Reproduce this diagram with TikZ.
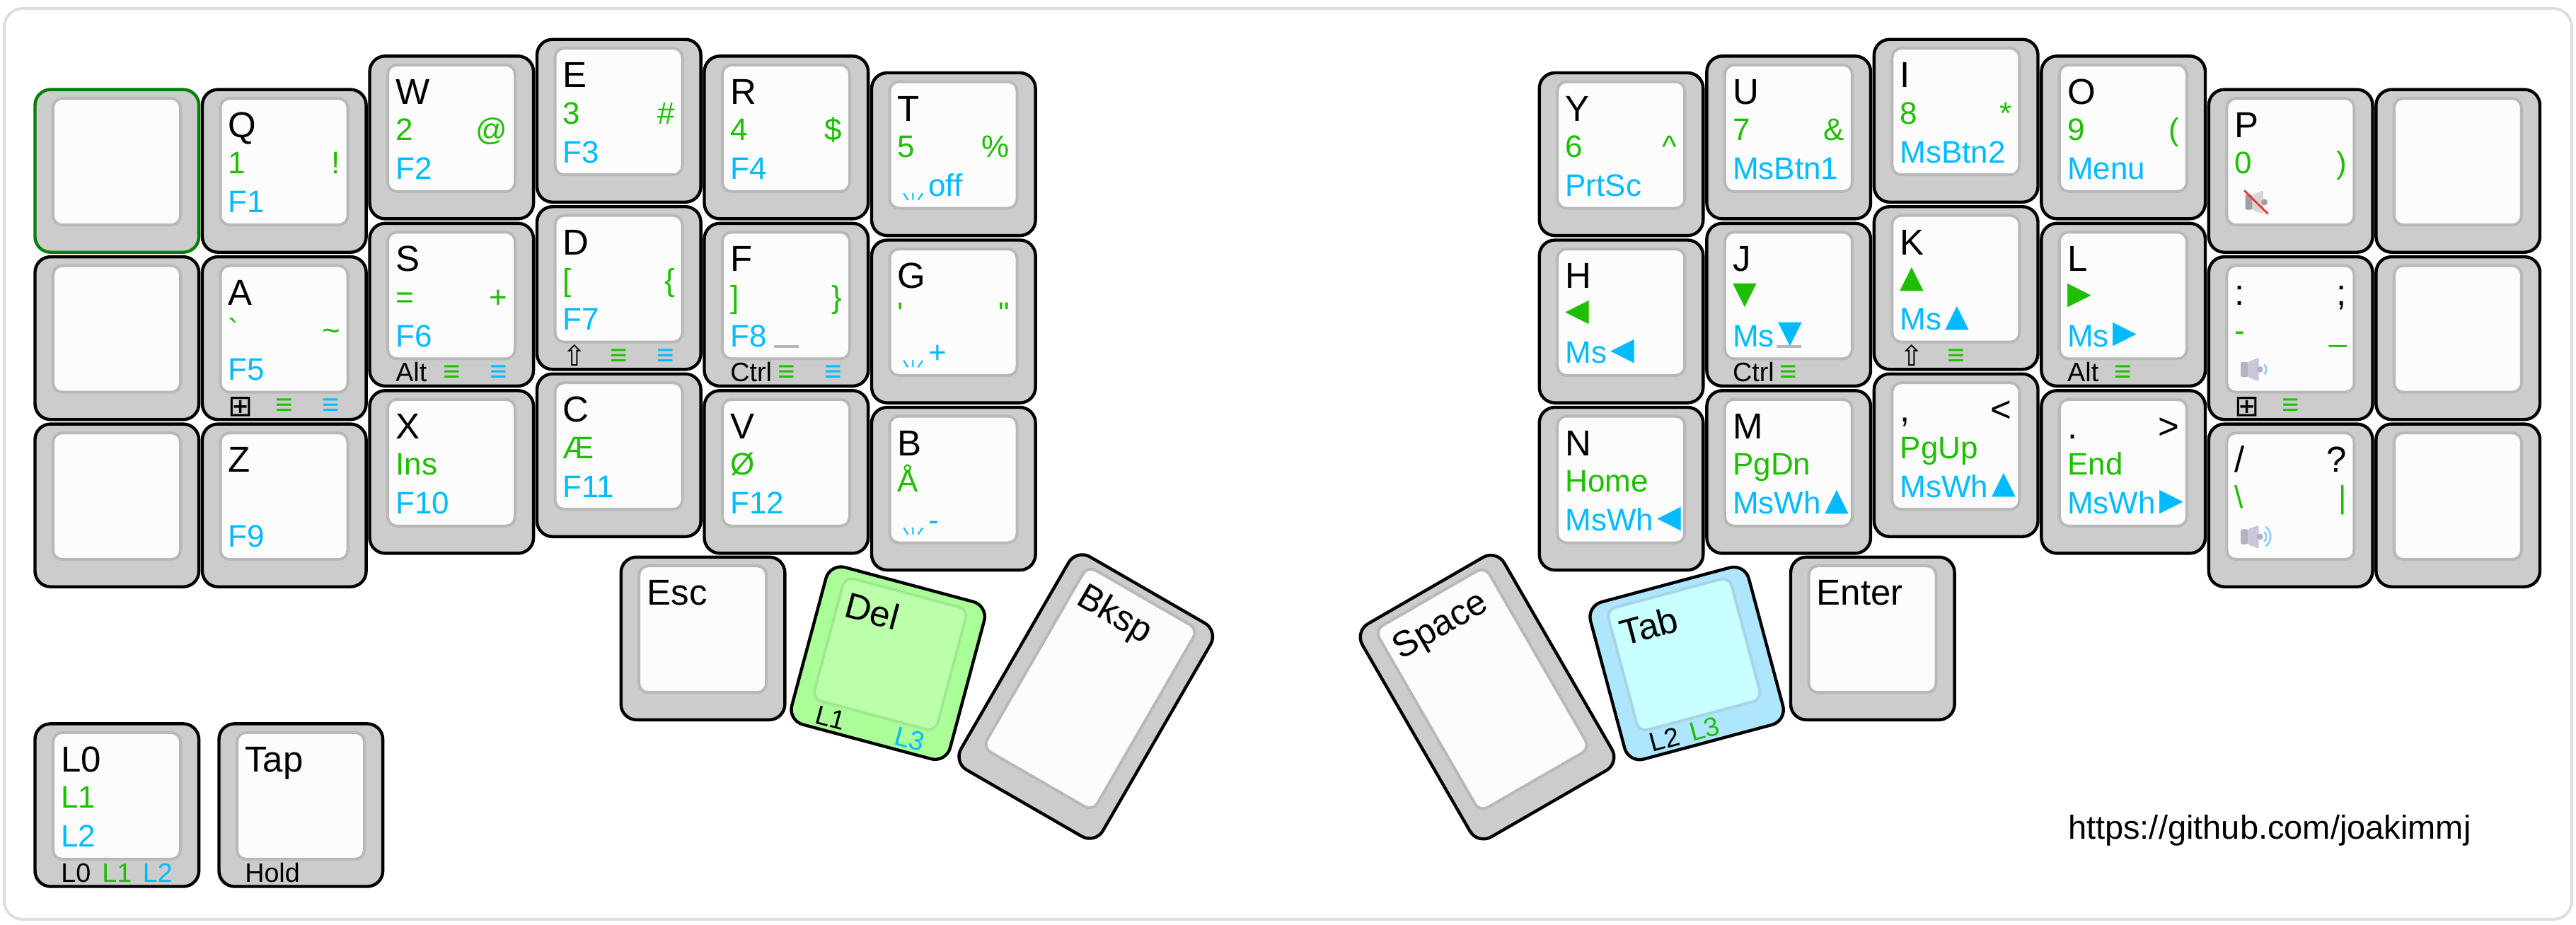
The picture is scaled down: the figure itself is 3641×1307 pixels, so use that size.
\documentclass[tikz,border=0pt]{standalone}
\usepackage{fontspec}
\setmainfont{Liberation Sans}[Ligatures=TeXOff]
\newfontfamily\dejavu{DejaVu Sans}
\definecolor{lgreen}{HTML}{1DBF00}
\definecolor{lblue}{HTML}{00BBFF}
\definecolor{keygray}{HTML}{CCCCCC}
\definecolor{topwhite}{HTML}{FCFCFC}
\definecolor{topedge}{HTML}{B8B8B8}
\definecolor{frameedge}{HTML}{DDDDDD}
\definecolor{frameg}{HTML}{008000}
\definecolor{delout}{HTML}{AAFF99}
\definecolor{delin}{HTML}{BBFFAA}
\definecolor{deledge}{HTML}{A0E890}
\definecolor{tabout}{HTML}{AEE6FF}
\definecolor{tabin}{HTML}{C8FFFF}
\definecolor{tabedge}{HTML}{A8D4E6}
\definecolor{spkb}{HTML}{B8B0C4}
\definecolor{spkc}{HTML}{CCC6DA}
\definecolor{spkgb}{HTML}{A0A0A0}
\definecolor{spkgc}{HTML}{D6D6D6}
\definecolor{mutered}{HTML}{F03030}
\definecolor{spkarc}{HTML}{90CCFF}
\newcounter{lgc}
\newlength{\pxu}\setlength{\pxu}{0.5pt}
\newcommand{\fs}[1]{\fontsize{\dimexpr#1\pxu\relax}{\dimexpr#1\pxu\relax}\selectfont}
\tikzset{
  x=0.5pt,y=0.5pt,
  lg/.style={inner sep=0pt,outer sep=0pt,transform shape},
  keybody/.style={line width=2.2pt,rounded corners=11pt,draw=black},
  keytop/.style={line width=2pt,rounded corners=6.5pt},
}
% legend helper: anchor, x, baseline y, colour, size, text
\newcommand{\lgd}[6]{\stepcounter{lgc}\node[lg,anchor=#1,text=#4] (lg\thelgc) at (#2,-#3) {\fs{#5}#6};}
\newcommand{\TL}[1]{\lgd{base west}{37.5}{68.7}{black}{51}{#1}}
\newcommand{\TR}[1]{\lgd{base east}{195.5}{68.7}{black}{51}{#1}}
\newcommand{\ML}[1]{\lgd{base west}{37.5}{120}{lgreen}{44}{#1}}
\newcommand{\MR}[1]{\lgd{base east}{195.5}{120}{lgreen}{44}{#1}}
\newcommand{\BL}[1]{\lgd{base west}{37.5}{175}{lblue}{44}{#1}}
\newcommand{\FL}[1]{\lgd{base west}{37.5}{224.5}{black}{37.7}{#1}}
\newcommand{\FC}[2][lgreen]{\lgd{base}{116.5}{224.5}{#1}{37.7}{#2}}
\newcommand{\FR}[2][lblue]{\lgd{base east}{195}{224.5}{#1}{37.7}{#2}}
\newcommand{\Bars}{\fs{42}≡}
\newcommand{\Tri}[1]{\raisebox{.12em}{\dejavu #1}}
\newcommand{\TRI}[1]{\kern.12em\raisebox{.12em}{\dejavu #1}}
\newcommand{\Win}{\raisebox{-.05em}{\dejavu\fs{42}⊞}}
\newcommand{\Shift}{\raisebox{-.05em}{\dejavu\fs{40}⇧}}
% key body: w h fill topfill topedge stroke
\newcommand{\keyshape}[6]{%
  \draw[keybody,draw=#6,fill=#3] (0.7,-0.7) rectangle (#1-2.2,-#2+2.2);
  \draw[keytop,draw=#5,fill=#4] (26.2,-13.2) rectangle (#1-28.3,-#2+40.8);}
\newcommand{\K}[3]{\begin{scope}[shift={(#1,-#2)}]\keyshape{234.5}{233}{keygray}{topwhite}{topedge}{black}#3\end{scope}}
\newcommand{\KE}[2]{\begin{scope}[shift={(#1,-#2)}]\keyshape{234.5}{233}{keygray}{topwhite}{topedge}{frameg}\end{scope}}
% rotated key: cx cy angle h fill top edge content
\newcommand{\KR}[8]{\begin{scope}[shift={(#1,-#2)},rotate=#3,shift={(-117.25,#4/2)}]\keyshape{234.5}{#4}{#5}{#6}{#7}{black}#8\end{scope}}
\newcommand{\Ticks}{\draw[lblue,line width=1pt] (46,-171) -- (52,-180.4) (59,-170.3) -- (59,-180.4) (72.7,-171) -- (66.4,-180.4);}
\newcommand{\Blight}[1]{\Ticks\lgd{base west}{81}{175}{lblue}{44}{#1}}
\newcommand{\Homing}{\draw[topedge,line width=2pt] (99,-174.5) -- (134,-174.5);}
\newcommand{\Speaker}[3]{%
  \fill[#1,rounded corners=1pt] (46,-149.4) rectangle (56,-170.8);
  \fill[#2,rounded corners=1pt] (56,-149.4) -- (71.5,-143.3) -- (71.5,-177.2) -- (56,-170.8) -- cycle;
  \fill[#3] (73,-160) circle (4.5);}
\newcommand{\ArcA}{\draw[spkarc,line width=1.4pt] (79,-153) arc (50:-50:9);}
\newcommand{\ArcB}{\draw[spkarc,line width=1.4pt] (81.5,-146) arc (50:-50:18);}
\begin{document}
\begin{tikzpicture}
\useasboundingbox (0,0) rectangle (3641,-1307);
\fill[white] (0,0) rectangle (3641,-1307);
\draw[frameedge,line width=2pt,rounded corners=13pt,fill=white] (6,-12) rectangle (3635,-1300);
% left half
\KE{48.8}{125.9}
\K{48.8}{362.4}{}
\K{48.8}{598.9}{}
\K{285.3}{125.9}{\TL{Q}\ML{1}\MR{!}\BL{F1}}
\K{285.3}{362.4}{\TL{A}\ML{`}\MR{\char"7E}\BL{F5}\FL{\Win}\FC{\Bars}\FR{\Bars}}
\K{285.3}{598.9}{\TL{Z}\BL{F9}}
\K{521.8}{78.6}{\TL{W}\ML{2}\MR{@}\BL{F2}}
\K{521.8}{315.1}{\TL{S}\ML{=}\MR{+}\BL{F6}\FL{Alt}\FC{\Bars}\FR{\Bars}}
\K{521.8}{551.6}{\TL{X}\ML{Ins}\BL{F10}}
\K{758.3}{55}{\TL{E}\ML{3}\MR{\#}\BL{F3}}
\K{758.3}{291.5}{\TL{D}\ML{[}\MR{\{}\BL{F7}\FL{\Shift}\FC{\Bars}\FR{\Bars}}
\K{758.3}{528}{\TL{C}\ML{Æ}\BL{F11}}
\K{994.8}{78.6}{\TL{R}\ML{4}\MR{\$}\BL{F4}}
\K{994.8}{315.1}{\TL{F}\ML{]}\MR{\}}\Homing\BL{F8}\FL{Ctrl}\FC{\Bars}\FR{\Bars}}
\K{994.8}{551.6}{\TL{V}\ML{Ø}\BL{F12}}
\K{1231.3}{102.3}{\TL{T}\ML{5}\MR{\%}\Blight{off}}
\K{1231.3}{338.8}{\TL{G}\ML{'}\MR{"}\Blight{+}}
\K{1231.3}{575.3}{\TL{B}\ML{Å}\Blight{-}}
% left thumb
\K{877}{787}{\TL{Esc}}
\KR{1255.7}{938.6}{-15}{233}{delout}{delin}{deledge}{\TL{Del}\FL{L1}\FR{L3}}
\KR{1535}{986}{-30}{351}{keygray}{topwhite}{topedge}{\TL{Bksp}}
% right thumb
\KR{2103}{986}{30}{351}{keygray}{topwhite}{topedge}{\TL{Space}}
\KR{2385}{938.6}{15}{233}{tabout}{tabin}{tabedge}{\TL{Tab}\FL{L2}\FC{L3}}
\K{2530.3}{787}{\TL{Enter}}
% right half
\K{2175}{102.3}{\TL{Y}\ML{6}\MR{\char"5E}\BL{PrtSc}}
\K{2175}{338.8}{\TL{H}\ML{\Tri{◀}}\BL{Ms\TRI{◀}}}
\K{2175}{575.3}{\TL{N}\ML{Home}\BL{MsWh\TRI{◀}}}
\K{2411.7}{78.6}{\TL{U}\ML{7}\MR{\&}\BL{MsBtn1}}
\K{2411.7}{315.1}{\TL{J}\ML{\Tri{▼}}\Homing\BL{Ms\TRI{▼}}\FL{Ctrl}\FC{\Bars}}
\K{2411.7}{551.6}{\TL{M}\ML{PgDn}\BL{MsWh\TRI{▲}}}
\K{2648.2}{55}{\TL{I}\ML{8}\MR{*}\BL{MsBtn2}}
\K{2648.2}{291.5}{\TL{K}\ML{\Tri{▲}}\BL{Ms\TRI{▲}}\FL{\Shift}\FC{\Bars}}
\K{2648.2}{528}{\TL{,}\TR{<}\ML{PgUp}\BL{MsWh\TRI{▲}}}
\K{2884.7}{78.6}{\TL{O}\ML{9}\MR{(}\BL{Menu}}
\K{2884.7}{315.1}{\TL{L}\ML{\Tri{▶}}\BL{Ms\TRI{▶}}\FL{Alt}\FC{\Bars}}
\K{2884.7}{551.6}{\TL{.}\TR{>}\ML{End}\BL{MsWh\TRI{▶}}}
\K{3121.2}{125.9}{\TL{P}\ML{0}\MR{)}\begin{scope}[shift={(6.3,0)}]\Speaker{spkgb}{spkgc}{spkgb}\end{scope}\draw[mutered,line width=1.4pt,line cap=round] (51.5,-144) -- (83.8,-176);}
\K{3121.2}{362.4}{\TL{:}\TR{;}\ML{-}\MR{\_}\Speaker{spkb}{spkc}{spkb}\ArcA\FL{\Win}\FC{\Bars}}
\K{3121.2}{598.9}{\TL{/}\TR{?}\ML{\char"5C}\MR{|}\Speaker{spkb}{spkc}{spkb}\ArcA\ArcB}
\K{3357.7}{125.9}{}
\K{3357.7}{362.4}{}
\K{3357.7}{598.9}{}
% legend keys
\K{48.8}{1022.7}{\TL{L0}\ML{L1}\BL{L2}\FL{L0}\FC{L1}\FR{L2}}
\K{308.8}{1022.7}{\TL{Tap}\FL{Hold}}
\node[lg,anchor=base west] (url) at (2923,-1186) {\fs{47}https://github.com/joakimmj};
\end{tikzpicture}
\end{document}
